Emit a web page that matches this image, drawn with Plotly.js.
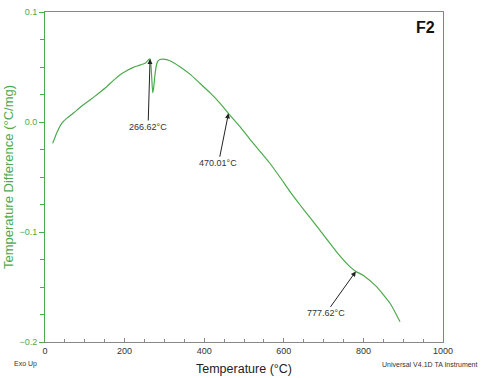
<!DOCTYPE html>
<html>
<head>
<meta charset="utf-8">
<script src="https://cdn.plot.ly/plotly-3.0.1.min.js"></script>
<style>html,body{margin:0;padding:0;background:#fff;}#chart{width:482px;height:378px;}</style>
</head>
<body>
<div id="chart"></div>
<script>
const temperature = [19.3, 30, 42, 55, 71, 90, 113, 135, 155, 172, 188, 205, 222, 235, 247, 254, 259.5, 264, 266.5, 268.5, 270.6, 273, 276, 280, 284, 289, 297, 315, 339, 365, 389, 415, 440, 460.6, 490, 515, 536, 565, 590, 616, 640, 666, 691, 701, 733, 766, 781, 800, 833, 867, 892];
const tempDiff = [-0.0194, -0.0095, -0.0012, 0.0035, 0.0079, 0.0138, 0.020, 0.0262, 0.0321, 0.0378, 0.0427, 0.0465, 0.0497, 0.0513, 0.0527, 0.0540, 0.0564, 0.0573, 0.050, 0.038, 0.0266, 0.031, 0.042, 0.0518, 0.0555, 0.0568, 0.0571, 0.0555, 0.0503, 0.0433, 0.0352, 0.0265, 0.017, 0.0079, -0.0043, -0.0157, -0.0248, -0.0375, -0.050, -0.0635, -0.0750, -0.0870, -0.0985, -0.1033, -0.1183, -0.1315, -0.1358, -0.1395, -0.1497, -0.1648, -0.1816];
const peakLabels = ["266.62°C", "470.01°C", "777.62°C"];
const arrowT = [264, 461, 781];
const arrowD = [0.0573, 0.0079, -0.1358];
const green = "rgb(76,170,76)";
const fontFam = "Liberation Sans, Arial, sans-serif";
const data = [{x: temperature, y: tempDiff, type: "scatter", mode: "lines",
  line: {color: green, width: 1.2, shape: "spline", smoothing: 0.5}, hoverinfo: "skip"}];
const offs = [[-2, 68], [-10, 50], [-30, 42]];
const annotations = peakLabels.map((t, i) => ({x: arrowT[i], y: arrowD[i], xref: "x", yref: "y", text: t,
  showarrow: true, ax: offs[i][0], ay: offs[i][1], arrowhead: 2, arrowsize: 1, arrowwidth: 1, arrowcolor: "#222",
  font: {family: fontFam, size: 9, color: "#333"}}));
annotations.push({xref: "paper", yref: "paper", x: 0.985, y: 0.985, xanchor: "right", yanchor: "top", text: "<b>F2</b>", showarrow: false,
  font: {family: fontFam, size: 16, color: "#111"}});
annotations.push({xref: "paper", yref: "paper", x: -0.048, y: -0.0667, xanchor: "center", yanchor: "middle", text: "Exo Up", showarrow: false,
  font: {family: fontFam, size: 7, color: "#333"}});
annotations.push({xref: "paper", yref: "paper", x: 1.093, y: -0.0667, xanchor: "right", yanchor: "middle", text: "Universal V4.1D TA Instrument", showarrow: false,
  font: {family: fontFam, size: 7, color: "#333"}});
const layout = {
  width: 482, height: 378, margin: {l: 45, r: 39, t: 12, b: 36},
  paper_bgcolor: "#fff", plot_bgcolor: "#fff", showlegend: false,
  font: {family: fontFam},
  xaxis: {range: [0, 1000], dtick: 200, tick0: 0, showgrid: false, zeroline: false, showline: true, mirror: true,
    linecolor: "#888", linewidth: 1, ticks: "inside", ticklen: 4, tickcolor: "#888",
    minor: {dtick: 50, ticks: "inside", ticklen: 3, tickcolor: "#888"},
    tickfont: {size: 9, color: "#333"},
    title: {text: "Temperature (°C)", font: {size: 12.5, color: "#222"}, standoff: 9}},
  yaxis: {range: [-0.2, 0.1], dtick: 0.1, tick0: 0, tickformat: ".1f", showgrid: false, zeroline: false, showline: true, mirror: true,
    linecolor: green, linewidth: 1, ticks: "outside", ticklen: 5, tickcolor: green,
    minor: {dtick: 0.025, ticks: "outside", ticklen: 4, tickcolor: green},
    tickfont: {size: 9, color: green},
    title: {text: "Temperature Difference (°C/mg)", font: {size: 13, color: green}, standoff: 2}},
  annotations: annotations
};
Plotly.newPlot("chart", data, layout, {displayModeBar: false, staticPlot: true});
</script>
</body>
</html>
